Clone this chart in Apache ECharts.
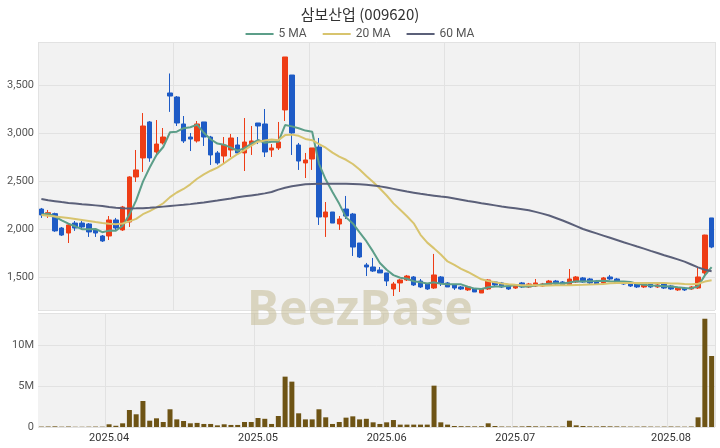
<!DOCTYPE html>
<html><head><meta charset="utf-8">
<script src="https://cdn.jsdelivr.net/npm/echarts@6/dist/echarts.min.js"></script>
<style>html,body{margin:0;padding:0;background:#fff}#c{width:720px;height:448px}</style>
</head><body><div id="c"></div>
<script>
const dates = ["2025-03-18","2025-03-19","2025-03-20","2025-03-21","2025-03-24","2025-03-25","2025-03-26","2025-03-27","2025-03-28","2025-03-31",
"2025-04-01","2025-04-02","2025-04-03","2025-04-04","2025-04-07","2025-04-08","2025-04-09","2025-04-10","2025-04-11","2025-04-14",
"2025-04-15","2025-04-16","2025-04-17","2025-04-18","2025-04-21","2025-04-22","2025-04-23","2025-04-24","2025-04-25","2025-04-28",
"2025-04-29","2025-04-30","2025-05-02","2025-05-07","2025-05-08","2025-05-09","2025-05-12","2025-05-13","2025-05-14","2025-05-15",
"2025-05-16","2025-05-19","2025-05-20","2025-05-21","2025-05-22","2025-05-23","2025-05-26","2025-05-27","2025-05-28","2025-05-29",
"2025-05-30","2025-06-02","2025-06-04","2025-06-05","2025-06-09","2025-06-10","2025-06-11","2025-06-12","2025-06-13","2025-06-16",
"2025-06-17","2025-06-18","2025-06-19","2025-06-20","2025-06-23","2025-06-24","2025-06-25","2025-06-26","2025-06-27","2025-06-30",
"2025-07-01","2025-07-02","2025-07-03","2025-07-04","2025-07-07","2025-07-08","2025-07-09","2025-07-10","2025-07-11","2025-07-14",
"2025-07-15","2025-07-16","2025-07-17","2025-07-18","2025-07-21","2025-07-22","2025-07-23","2025-07-24","2025-07-25","2025-07-28",
"2025-07-29","2025-07-30","2025-07-31","2025-08-01","2025-08-04","2025-08-05","2025-08-06","2025-08-07","2025-08-08","2025-08-11"];
const opens = [2208,2146,2160,2010,1958,2062,2062,2052,1990,1927, 1927,2094,1990,2073,2542,2740,3115,2802,2896,3417, 3375,3094,2958,2917,3115,2958,2792,2760,2823,2875, 2792,2885,3104,3094,2823,2844,3240,3604,2875,2688, 2729,2854,2125,2177,2052,2208,2156,1854,1625,1604, 1573,1542,1375,1438,1469,1500,1458,1427,1385,1500, 1438,1417,1396,1365,1375,1333,1375,1448,1438,1406, 1385,1438,1396,1406,1406,1417,1458,1448,1417,1448, 1490,1479,1458,1438,1500,1479,1448,1438,1427,1396, 1427,1396,1427,1406,1365,1385,1375,1385,1542,2115];
const closes = [2146,2170,1980,1937,2042,2010,2021,1969,1958,1875, 2094,2010,2229,2542,2615,3073,2740,2885,2958,3385, 3104,2917,2937,3094,2958,2771,2688,2875,2948,2792, 2906,2917,3073,2802,2844,2906,3792,3000,2708,2719, 2844,2125,2177,2062,2104,2135,1812,1708,1604,1562, 1542,1458,1427,1469,1510,1417,1396,1375,1521,1438, 1396,1385,1375,1396,1344,1375,1469,1417,1396,1375, 1417,1396,1427,1438,1427,1458,1427,1417,1479,1500, 1448,1438,1427,1490,1479,1438,1427,1406,1396,1427, 1396,1417,1385,1375,1385,1365,1396,1500,1937,1812];
const lows = [2115,2115,1970,1927,1854,1980,1990,1917,1917,1865, 1885,1990,1980,2021,2490,2594,2700,2760,2880,3220, 3073,2896,2812,2900,2865,2667,2670,2688,2750,2771, 2604,2771,2885,2750,2750,2823,3125,2771,2615,2531, 2615,2042,1917,2062,1990,2104,1719,1698,1510,1552, 1542,1406,1302,1344,1458,1406,1385,1365,1375,1406, 1396,1365,1365,1354,1344,1333,1365,1396,1385,1365, 1375,1385,1385,1396,1396,1406,1417,1406,1406,1438, 1438,1427,1417,1427,1469,1427,1417,1396,1385,1385, 1385,1385,1375,1365,1354,1354,1365,1375,1520,1800];
const highs = [2219,2198,2170,2020,2052,2083,2083,2062,2000,1937, 2135,2115,2240,2550,2823,3208,3125,3135,3052,3620, 3385,3177,3000,3125,3115,2970,2812,2958,2990,2958, 3156,3073,3104,3250,2885,3115,3792,3604,2896,2792, 2844,2948,2281,2177,2135,2344,2167,1854,1646,1698, 1604,1542,1448,1479,1521,1510,1479,1438,1740,1510, 1448,1417,1406,1406,1385,1385,1479,1458,1448,1417, 1427,1448,1438,1479,1438,1469,1469,1458,1583,1510, 1500,1490,1469,1500,1521,1490,1458,1448,1438,1438, 1438,1427,1438,1417,1396,1396,1406,1604,1940,2115];
const ma5 = [2150,2160,2130,2090,2055,2028,1998,1996,2000,1967, 1983,1981,2033,2150,2298,2494,2640,2771,2854,3008, 3014,3050,3060,3087,3002,2935,2890,2877,2848,2815, 2842,2888,2927,2898,2908,2908,3083,3069,3050,3025, 3013,2679,2515,2385,2262,2121,2058,1964,1873,1764, 1646,1575,1519,1492,1481,1456,1444,1433,1444,1429, 1425,1423,1423,1398,1379,1375,1392,1400,1400,1406, 1415,1400,1402,1411,1421,1429,1435,1433,1442,1456, 1454,1456,1458,1461,1456,1454,1452,1448,1429,1419, 1410,1408,1404,1400,1392,1385,1381,1404,1517,1602];
const ma20 = [2146,2138,2130,2122,2114,2104,2094,2084,2072,2062, 2054,2050,2057,2079,2105,2154,2186,2225,2268,2332, 2380,2417,2465,2523,2569,2607,2640,2685,2735,2781, 2821,2867,2909,2922,2933,2925,2978,2983,2971,2938, 2925,2885,2847,2795,2753,2721,2677,2619,2552,2490, 2422,2349,2267,2200,2133,2059,1939,1858,1798,1734, 1662,1625,1585,1552,1514,1476,1458,1444,1433,1424, 1418,1415,1415,1413,1409,1411,1413,1415,1413,1416, 1418,1421,1424,1428,1435,1438,1436,1436,1436,1438, 1437,1438,1436,1433,1431,1426,1425,1429,1452,1467];
const ma60 = [2312,2300,2290,2280,2271,2265,2258,2252,2246,2240, 2230,2222,2215,2214,2215,2217,2220,2226,2233,2240, 2246,2252,2259,2267,2276,2286,2296,2307,2318,2330, 2340,2350,2360,2371,2385,2410,2430,2445,2455,2465, 2468,2470,2470,2470,2470,2470,2469,2465,2460,2452, 2444,2432,2418,2404,2390,2378,2366,2356,2347,2338, 2330,2318,2305,2292,2280,2268,2257,2246,2235,2225, 2215,2205,2195,2178,2160,2140,2115,2088,2060,2030, 2000,1977,1954,1931,1908,1885,1862,1840,1817,1795, 1772,1750,1727,1705,1683,1660,1630,1600,1575,1560];
const volumes = [50000,60000,80000,40000,60000,30000,30000,40000,50000,40000, 330000,150000,450000,2070000,1550000,3170000,770000,1060000,610000,2160000, 930000,730000,450000,500000,370000,370000,200000,330000,250000,250000, 610000,610000,1100000,1000000,370000,1340000,6140000,5530000,1670000,930000, 930000,2160000,1180000,370000,610000,1140000,1300000,930000,1000000,570000, 370000,570000,850000,290000,290000,290000,290000,290000,5040000,570000, 290000,120000,100000,90000,80000,90000,450000,120000,60000,50000, 60000,70000,100000,80000,60000,90000,70000,60000,770000,200000, 120000,80000,70000,90000,80000,70000,60000,50000,50000,60000, 50000,40000,50000,60000,50000,40000,60000,1180000,13200000,8660000];

const UP = '#ee3d16', DOWN = '#1e5bc6';
const candles = opens.map((o, i) => [o, closes[i], lows[i], highs[i]]);
const monthStart = dates.map((d, i) => i > 0 && d.slice(5, 7) !== dates[i - 1].slice(5, 7));
const font = 'Roboto, "Noto Sans CJK KR", sans-serif';

const chart = echarts.init(document.getElementById('c'));
chart.setOption({
  animation: false,
  backgroundColor: '#ffffff',
  title: { text: '삼보산업 (009620)', left: 'center', top: 2,
    textStyle: { fontSize: 15, fontWeight: 'normal', color: '#333', fontFamily: '"Noto Sans CJK KR", sans-serif' } },
  legend: { top: 23, left: 'center', itemWidth: 28, itemHeight: 2, icon: 'rect', itemGap: 16,
    textStyle: { fontSize: 12, color: '#555', fontFamily: font },
    data: ['5 MA', '20 MA', '60 MA'] },
  graphic: [{ type: 'text', left: 'center', top: 287, z: 1, silent: true,
    style: { text: 'BeezBase', font: 'bold 48px "Noto Sans", sans-serif', fill: 'rgba(196,188,150,0.55)' } }],
  grid: [
    { left: 38, right: 5, top: 42, height: 268, show: true, backgroundColor: '#f2f2f2', borderWidth: 0 },
    { left: 38, right: 5, top: 313, height: 114, show: true, backgroundColor: '#f2f2f2', borderWidth: 0 }
  ],
  xAxis: [
    { type: 'category', gridIndex: 0, data: dates, boundaryGap: true,
      axisLine: { show: false }, axisTick: { show: false }, axisLabel: { show: false, interval: 19 },
      splitLine: { show: true, interval: (i) => i % 20 === 0, lineStyle: { color: '#e2e2e2', width: 1 } } },
    { type: 'category', gridIndex: 1, data: dates, boundaryGap: true,
      axisLine: { show: false }, axisTick: { show: false },
      axisLabel: { interval: (i) => monthStart[i], formatter: (v) => v.slice(0, 7).replace('-', '.'),
        fontSize: 11, color: '#333', margin: 6, fontFamily: font },
      splitLine: { show: true, interval: (i) => monthStart[i], lineStyle: { color: '#e2e2e2', width: 1 } } }
  ],
  yAxis: [
    { type: 'value', gridIndex: 0, min: 1156, max: 3948, scale: true,
      axisLine: { show: false }, axisTick: { show: false },
      axisLabel: { fontSize: 11, color: '#555', margin: 4, fontFamily: font,
        formatter: (v) => (v % 500 === 0 ? v.toLocaleString('en-US') : '') },
      splitLine: { lineStyle: { color: '#e2e2e2', width: 1 } } },
    { type: 'value', gridIndex: 1, min: 0, max: 13900000, interval: 5000000,
      axisLine: { show: false }, axisTick: { show: false },
      axisLabel: { fontSize: 11, color: '#555', margin: 4, fontFamily: font,
        formatter: (v) => (v === 0 ? '0' : (v % 5000000 === 0 ? (v / 1000000) + 'M' : '')) },
      splitLine: { lineStyle: { color: '#e2e2e2', width: 1 } } }
  ],
  series: [
    { name: 'candle', type: 'candlestick', xAxisIndex: 0, yAxisIndex: 0, data: candles, barWidth: 5,
      itemStyle: { color: UP, color0: DOWN, borderColor: UP, borderColor0: DOWN, borderWidth: 1 } },
    { name: '5 MA', type: 'line', xAxisIndex: 0, yAxisIndex: 0, data: ma5, symbol: 'none',
      lineStyle: { width: 2, color: '#5c9e89' }, itemStyle: { color: '#5c9e89' } },
    { name: '20 MA', type: 'line', xAxisIndex: 0, yAxisIndex: 0, data: ma20, symbol: 'none',
      lineStyle: { width: 2, color: '#d8c46e' }, itemStyle: { color: '#d8c46e' } },
    { name: '60 MA', type: 'line', xAxisIndex: 0, yAxisIndex: 0, data: ma60, symbol: 'none',
      lineStyle: { width: 2, color: '#5b6079' }, itemStyle: { color: '#5b6079' } },
    { name: 'volume', type: 'bar', xAxisIndex: 1, yAxisIndex: 1, data: volumes, barWidth: 5,
      itemStyle: { color: '#6e5415' } }
  ]
});
</script></body></html>
